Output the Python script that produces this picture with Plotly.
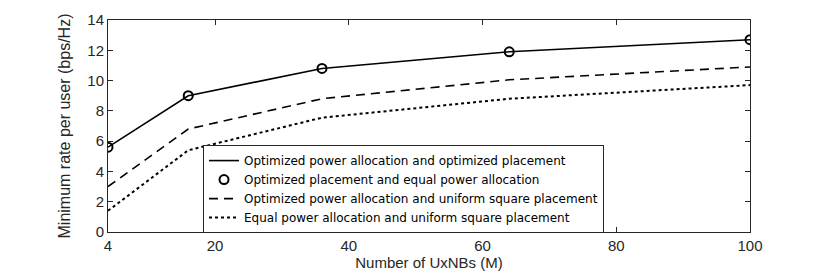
import plotly.graph_objects as go

m_values = [4, 16, 36, 64, 100]
opt_power_opt_place = [5.6, 9.0, 10.8, 11.9, 12.7]
opt_place_equal_power = [5.6, 9.0, 10.8, 11.9, 12.7]
opt_power_uniform = [3.0, 6.8, 8.8, 10.05, 10.9]
equal_power_uniform = [1.4, 5.4, 7.55, 8.8, 9.7]

x_ticks = [4, 20, 40, 60, 80, 100]
y_ticks = [0, 2, 4, 6, 8, 10, 12, 14]

names = [
    "Optimized power allocation and optimized placement",
    "Optimized placement and equal power allocation",
    "Optimized power allocation and uniform square placement",
    "Equal power allocation and uniform square placement",
]

fig = go.Figure()
fig.add_trace(go.Scatter(x=m_values, y=opt_power_opt_place, mode="lines",
                         line=dict(color="black", width=1.6), name=names[0]))
fig.add_trace(go.Scatter(x=m_values, y=opt_place_equal_power, mode="markers",
                         marker=dict(symbol="circle-open", size=9, color="black",
                                     line=dict(width=2, color="black")), name=names[1]))
fig.add_trace(go.Scatter(x=m_values, y=opt_power_uniform, mode="lines",
                         line=dict(color="black", width=1.6, dash="9px,6px"), name=names[2]))
fig.add_trace(go.Scatter(x=m_values, y=equal_power_uniform, mode="lines",
                         line=dict(color="black", width=2, dash="dot"), name=names[3]))

axis_common = dict(showgrid=False, zeroline=False, showline=True, linecolor="#262626",
                   linewidth=1, mirror="ticks", ticks="inside", ticklen=5,
                   tickcolor="#262626", automargin=False,
                   tickfont=dict(size=15, color="#262626", family="Liberation Sans, Arial, sans-serif"))

fig.update_xaxes(range=[4, 100], tickvals=x_ticks,
                 title=dict(text="Number of UxNBs (M)",
                            font=dict(size=15, color="#262626", family="Liberation Sans, Arial, sans-serif"),
                            standoff=0),
                 **axis_common)
fig.update_yaxes(range=[0, 14], tickvals=y_ticks,
                 title=dict(text="Minimum rate per user (bps/Hz)",
                            font=dict(size=16, color="#262626",
                                      family="Liberation Sans Narrow, Liberation Sans, Arial, sans-serif"),
                            standoff=12),
                 **axis_common)

fig.update_layout(
    width=830, height=273,
    margin=dict(l=100, r=88, t=12, b=49),
    paper_bgcolor="white", plot_bgcolor="white",
    font=dict(family="Liberation Sans, Arial, sans-serif", color="#262626"),
    legend=dict(x=0.148, y=0.41, xanchor="left", yanchor="top",
                bordercolor="#262626", borderwidth=1, bgcolor="white",
                font=dict(size=12, color="black", family="DejaVu Sans, sans-serif"),
                tracegroupgap=0, itemwidth=30),
    showlegend=True,
)

fig.write_html("out.html")
